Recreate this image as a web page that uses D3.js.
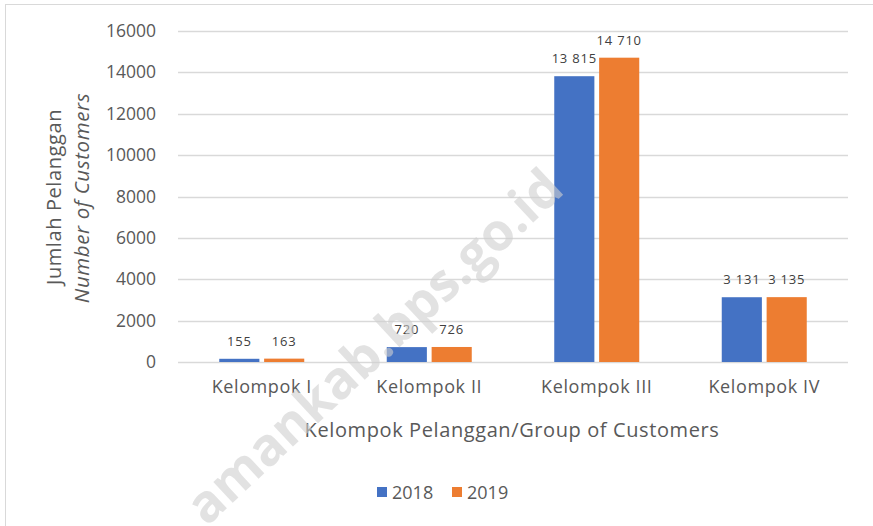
<!DOCTYPE html>
<html>
<head>
<meta charset="utf-8">
<script src="https://cdn.jsdelivr.net/npm/d3@7"></script>
<style>
  body { margin: 0; background: #fff; }
  text { font-family: "Open Sans", "Noto Sans", sans-serif; }
</style>
</head>
<body>
<div id="chart"></div>
<script>
var categories = ["Kelompok I", "Kelompok II", "Kelompok III", "Kelompok IV"]
var years = ["2018", "2019"]
var values2018 = [155, 720, 13815, 3131]
var values2019 = [163, 726, 14710, 3135]
var yTicks = [0, 2000, 4000, 6000, 8000, 10000, 12000, 14000, 16000]

var colors = { "2018": "#4472C4", "2019": "#ED7D31" }

var width = 873, height = 526
var margin = { top: 31, left: 178, bottom: 164, right: 25 }
var chartWidth = width - margin.left - margin.right
var chartHeight = height - margin.top - margin.bottom

var svg = d3.select("#chart").append("svg")
    .attr("width", width).attr("height", height)

// outer frame
svg.append("rect")
    .attr("x", 5.5).attr("y", 4.5)
    .attr("width", 900).attr("height", 600)
    .attr("fill", "none").attr("stroke", "#d9d9d9")

var chartLayer = svg.append("g")
    .attr("transform", "translate(" + [margin.left, margin.top] + ")")

var x0 = d3.scaleBand().domain(categories).range([0, chartWidth])
var groupW = 85
var x1 = d3.scaleBand().domain(years).range([0, groupW]).paddingInner(9 / 85)
var y = d3.scaleLinear().domain([0, 16000]).range([chartHeight, 0])

var fmt = d3.formatLocale({ decimal: ".", thousands: " ", grouping: [3], currency: ["", ""] }).format(",")

// gridlines
chartLayer.append("g")
    .selectAll("line").data(yTicks).enter().append("line")
    .attr("x1", 0).attr("x2", chartWidth)
    .attr("y1", function(d) { return Math.round(y(d)) + 0.5 })
    .attr("y2", function(d) { return Math.round(y(d)) + 0.5 })
    .attr("stroke", "#d9d9d9").attr("stroke-width", 1.3)

// y axis labels
var yAxis = chartLayer.append("g")
    .call(d3.axisLeft(y).tickValues(yTicks).tickSize(0).tickPadding(22).tickFormat(d3.format("d")))
yAxis.select(".domain").remove()
yAxis.selectAll("text")
    .attr("fill", "#595959").style("font-size", "17.5px")

// x axis labels
var xAxis = chartLayer.append("g")
    .attr("transform", "translate(0," + chartHeight + ")")
    .call(d3.axisBottom(x0).tickSize(0).tickPadding(18))
xAxis.select(".domain").remove()
xAxis.selectAll("text")
    .attr("fill", "#595959").style("font-size", "18px").style("letter-spacing", "0.6px")

// bars
var data = categories.map(function(c, i) {
    return { cat: c, vals: [{ year: "2018", v: values2018[i] }, { year: "2019", v: values2019[i] }] }
})

var groups = chartLayer.selectAll(".grp").data(data).enter().append("g")
    .attr("class", "grp")
    .attr("transform", function(d) {
        return "translate(" + (x0(d.cat) + (x0.bandwidth() - groupW) / 2) + ",0)"
    })

groups.selectAll("rect").data(function(d) { return d.vals }).enter().append("rect")
    .attr("x", function(d) { return x1(d.year) })
    .attr("width", x1.bandwidth())
    .attr("y", function(d) { return y(d.v) })
    .attr("height", function(d) { return chartHeight - y(d.v) })
    .attr("fill", function(d) { return colors[d.year] })

groups.selectAll(".lbl").data(function(d) { return d.vals }).enter().append("text")
    .attr("class", "lbl")
    .attr("x", function(d) { return x1(d.year) + x1.bandwidth() / 2 })
    .attr("y", function(d) { return y(d.v) - 13 })
    .attr("text-anchor", "middle")
    .attr("fill", "#404040")
    .style("font-size", "13px")
    .style("letter-spacing", "0.8px")
    .text(function(d) { return fmt(d.v) })

// x title
svg.append("text")
    .attr("x", 512).attr("y", 437)
    .attr("text-anchor", "middle")
    .attr("fill", "#595959")
    .style("font-size", "20px")
    .style("letter-spacing", "0.6px")
    .text("Kelompok Pelanggan/Group of Customers")

// y titles
svg.append("text")
    .attr("transform", "translate(61,197) rotate(-90)")
    .attr("text-anchor", "middle")
    .attr("fill", "#595959")
    .style("font-size", "20px")
    .style("letter-spacing", "0.6px")
    .text("Jumlah Pelanggan")
svg.append("text")
    .attr("transform", "translate(89,198) rotate(-90)")
    .attr("text-anchor", "middle")
    .attr("fill", "#595959")
    .style("font-size", "20.5px")
    .style("letter-spacing", "0.6px")
    .style("font-style", "italic")
    .text("Number of Customers")

// legend
var legend = svg.append("g").attr("transform", "translate(377,487)")
var li = legend.selectAll("g").data(years).enter().append("g")
    .attr("transform", function(d, i) { return "translate(" + (i * 75) + ",0)" })
li.append("rect").attr("width", 10).attr("height", 10)
    .attr("fill", function(d) { return colors[d] })
li.append("text").attr("x", 15).attr("y", 11.5)
    .attr("fill", "#595959").style("font-size", "18px")
    .text(function(d) { return d })

// watermark
svg.append("text")
    .attr("transform", "translate(566,192) rotate(-43)")
    .attr("text-anchor", "end")
    .attr("fill", "#d0d0d0").attr("opacity", 0.6)
    .style("font-size", "52px").style("font-weight", "bold")
    .text("amankab.bps.go.id")
</script>
</body>
</html>
